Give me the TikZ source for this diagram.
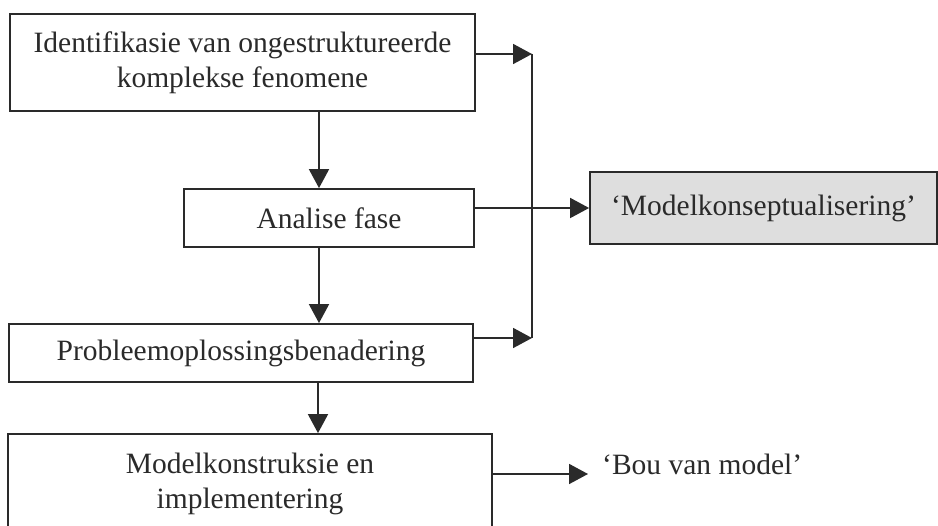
\documentclass[tikz,border=0pt]{standalone}
\usepackage{fontspec}
\setmainfont{Liberation Serif}
\usetikzlibrary{arrows.meta}
\definecolor{ink}{HTML}{2A2A2A}
\definecolor{shade}{HTML}{DEDEDE}
\begin{document}
\begin{tikzpicture}[x=1pt,y=-1pt,
  box/.style={draw=ink, line width=1.8pt, inner sep=0pt, text=ink,
    font=\fontsize{29.5}{35}\selectfont, align=center},
  conn/.style={draw=ink, line width=1.8pt},
  arr/.style={conn, -{Triangle[length=19pt,width=20pt]}}]
\useasboundingbox[fill=white] (0,0) rectangle (938,526);
\begin{scope}
\clip (0,0) rectangle (938,526);
\node[box, minimum width=465pt, minimum height=97pt] (b1) at (242.5,62.5)
  {Identifikasie van ongestruktureerde\\komplekse fenomene};
\node[box, minimum width=290pt, minimum height=58pt] (b2) at (329,218) {Analise fase};
\node[box, minimum width=464pt, minimum height=58pt] (b3) at (241,353) {Probleemoplossingsbenadering};
\node[box, minimum width=484pt, minimum height=100pt] (b4) at (250,484)
  {Modelkonstruksie en\\implementering};
\node[box, fill=shade, minimum width=347pt, minimum height=72pt] (b5) at (763.5,208)
  {`Modelkonseptualisering'};
\node[text=ink, font=\fontsize{29.5}{35}\selectfont, anchor=base west, inner sep=0pt] (bou) at (602,475)
  {`Bou van model'};
\coordinate (c1) at (319,0);
\coordinate (c2) at (318,0);
\coordinate (j1) at (532,54);
\coordinate (j2) at (532,338);
\coordinate (bt) at (588,474);
\draw[arr] (b1.south -| c1) -- (b2.north -| c1);
\draw[arr] (b2.south -| c1) -- (b3.north -| c1);
\draw[arr] (b3.south -| c2) -- (b4.north -| c2);
\draw[arr] (b1.east |- j1) -- (j1);
\draw[arr] (b3.east |- j2) -- (j2);
\draw[conn] (j1) -- (j2);
\draw[arr] (b2.east |- b5.west) -- (b5.west);
\draw[arr] (b4.east |- bt) -- (bt);
\end{scope}
\end{tikzpicture}
\end{document}
